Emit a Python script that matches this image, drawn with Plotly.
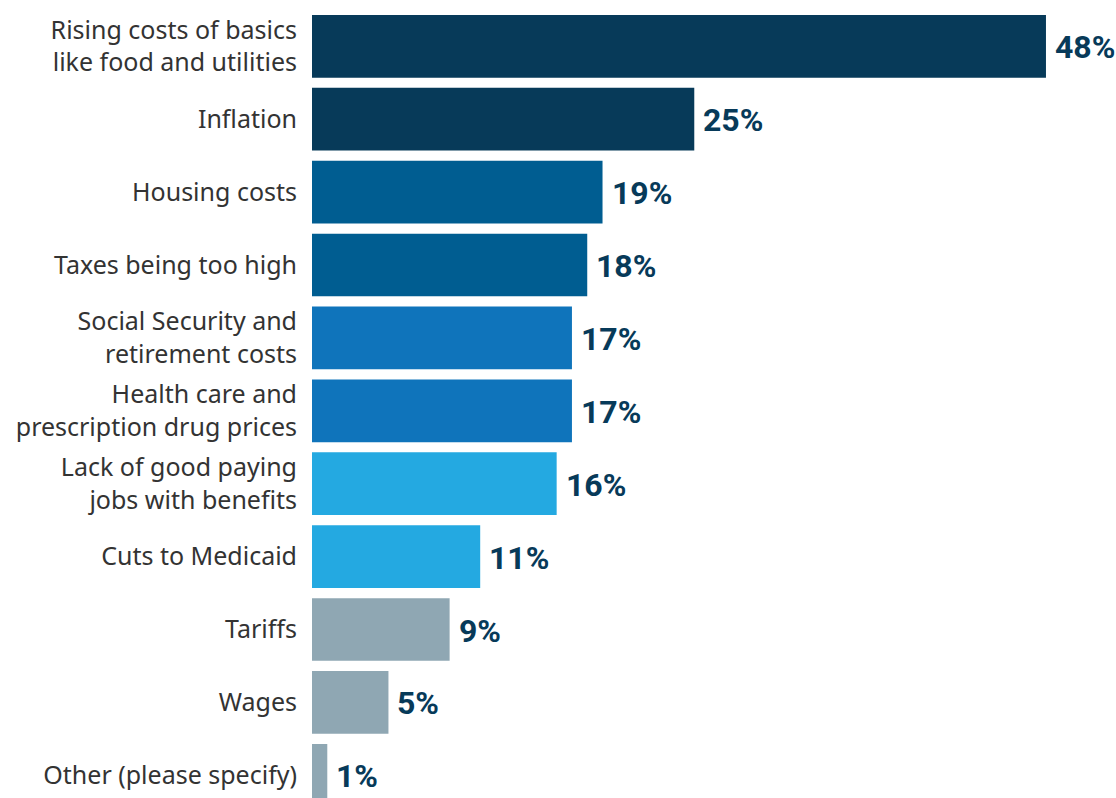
import plotly.graph_objects as go

categories = [
    "Rising costs of basics<br>like food and utilities",
    "Inflation",
    "Housing costs",
    "Taxes being too high",
    "Social Security and<br>retirement costs",
    "Health care and<br>prescription drug prices",
    "Lack of good paying<br>jobs with benefits",
    "Cuts to Medicaid",
    "Tariffs",
    "Wages",
    "Other (please specify)",
]
values = [48, 25, 19, 18, 17, 17, 16, 11, 9, 5, 1]
bar_colors = [
    "#073a59", "#073a59",
    "#005d91", "#005d91",
    "#0f74bb", "#0f74bb",
    "#24a9e1", "#24a9e1",
    "#8fa7b3", "#8fa7b3", "#8fa7b3",
]
value_labels = [f"{v}%" for v in values]

fig = go.Figure(
    go.Bar(
        x=values,
        y=categories,
        orientation="h",
        marker=dict(color=bar_colors, line=dict(width=0)),
        width=0.86,
        hoverinfo="skip",
    )
)

# value labels to the right of each bar
for cat, v, lab in zip(categories, values, value_labels):
    fig.add_annotation(
        x=v,
        y=cat,
        text=lab,
        showarrow=False,
        xanchor="left",
        yanchor="middle",
        xshift=7,
        yshift=-1,
        font=dict(
            family="Roboto",
            size=32,
            color="#073a59",
            weight="bold",
        ),
    )

fig.update_layout(
    width=1116,
    height=798,
    margin=dict(l=312, r=0, t=0, b=0),
    paper_bgcolor="white",
    plot_bgcolor="white",
    showlegend=False,
    bargap=0.14,
)
fig.update_xaxes(
    range=[0, 52.58],
    visible=False,
    showgrid=False,
    zeroline=False,
)
fig.update_yaxes(
    type="category",
    categoryorder="array",
    categoryarray=categories,
    range=[10.311, -0.635],
    showgrid=False,
    zeroline=False,
    showline=False,
    ticks="",
    ticklabelstandoff=14,
    tickfont=dict(family="Noto Sans", size=25, color="#333333"),
)

fig.write_html("out.html")
